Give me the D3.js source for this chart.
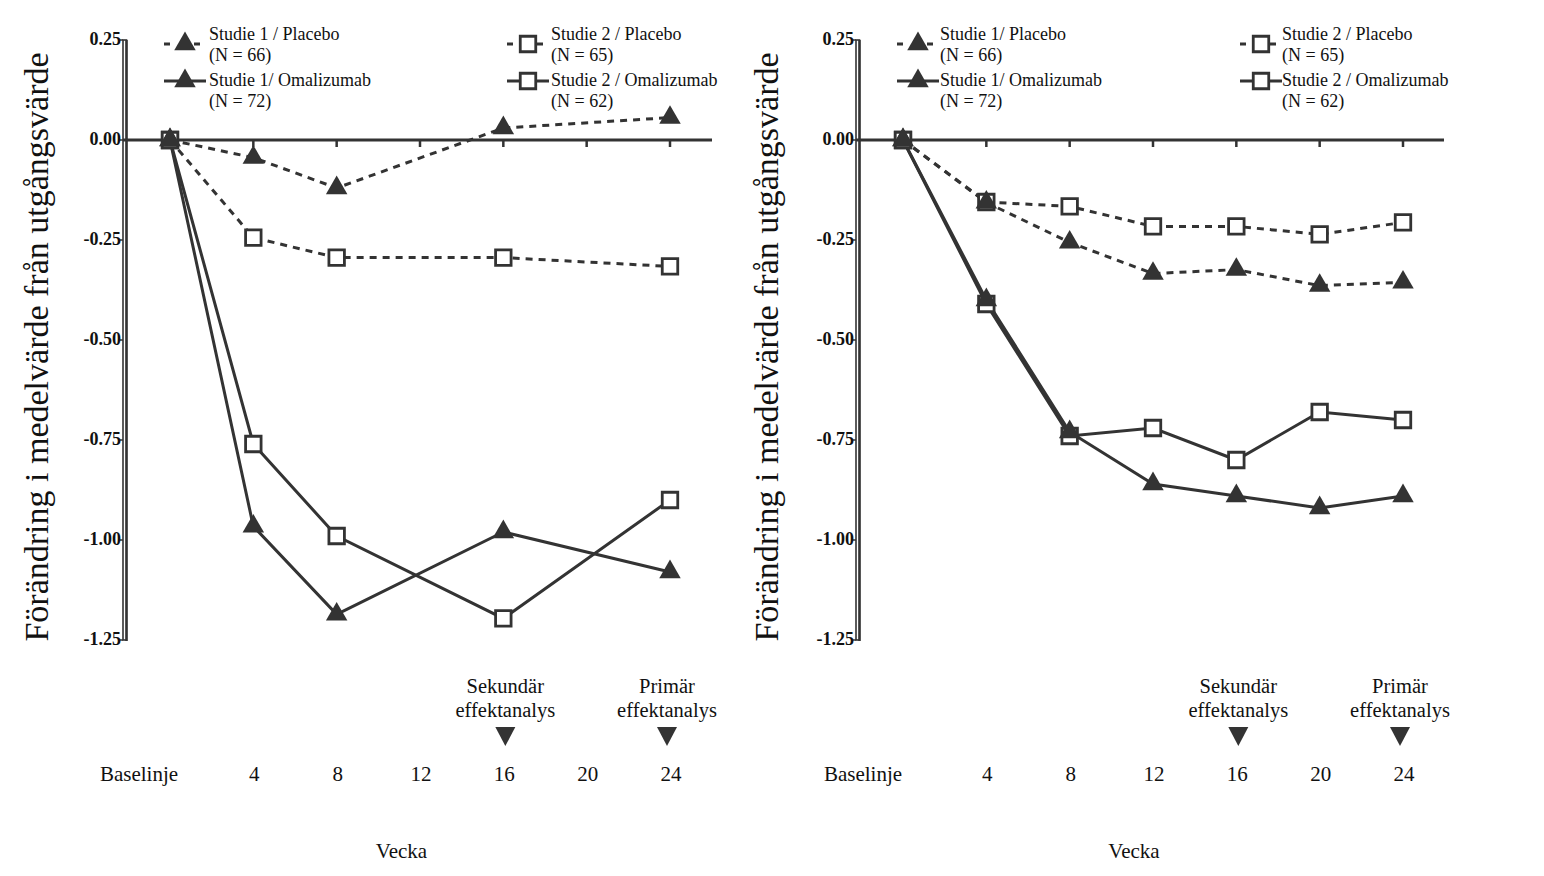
<!DOCTYPE html>
<html>
<head>
<meta charset="utf-8">
<script src="https://cdn.jsdelivr.net/npm/d3@7/dist/d3.min.js"></script>
<style>
html,body{margin:0;padding:0;background:#fff;}
svg{display:block;}
text{font-family:"Liberation Serif","Times New Roman",serif;fill:#111;}
</style>
</head>
<body>
<svg id="chart" width="1544" height="876"></svg>
<script>
// ---------- data ----------
const yTicks = [0.25, 0.00, -0.25, -0.50, -0.75, -1.00, -1.25];
const xTickWeeks = [4, 8, 12, 16, 20, 24];
const xTickLabels = ["Baselinje", "4", "8", "12", "16", "20", "24"];
const xLabelWeeks = [0, 4, 8, 12, 16, 20, 24];

// Left panel (weeks 0,4,8,16,24)
const leftWeeks = [0, 4, 8, 16, 24];
const leftS1Placebo = [0, -0.044, -0.12, 0.03, 0.056];
const leftS2Placebo = [0, -0.244, -0.294, -0.294, -0.316];
const leftS1Omalizumab = [0, -0.966, -1.186, -0.98, -1.08];
const leftS2Omalizumab = [0, -0.76, -0.99, -1.196, -0.90];

// Right panel (weeks 0..24 every 4)
const rightWeeks = [0, 4, 8, 12, 16, 20, 24];
const rightS1Placebo = [0, -0.156, -0.256, -0.334, -0.324, -0.364, -0.356];
const rightS2Placebo = [0, -0.155, -0.166, -0.216, -0.216, -0.236, -0.206];
const rightS1Omalizumab = [0, -0.40, -0.73, -0.86, -0.89, -0.92, -0.89];
const rightS2Omalizumab = [0, -0.41, -0.74, -0.72, -0.80, -0.68, -0.70];

const leftLegend = ["Studie 1 / Placebo", "Studie 2 / Placebo", "Studie 1/ Omalizumab", "Studie 2 / Omalizumab"];
const rightLegend = ["Studie 1/ Placebo", "Studie 2 / Placebo", "Studie 1/ Omalizumab", "Studie 2 / Omalizumab"];
const legendN = ["(N = 66)", "(N = 65)", "(N = 72)", "(N = 62)"];

const yTitle = "Förändring i medelvärde från utgångsvärde";
const xTitle = "Vecka";

// ---------- drawing ----------
const svg = d3.select("#chart");
svg.append("rect").attr("width",1544).attr("height",876).attr("fill","#fff");
const INK = "#333";
const fmt = v => d3.format(".2f")(v).replace("\u2212", "-");

function drawPanel(cfg) {
  const g = svg.append("g");
  const x = d3.scaleLinear().domain([0, 24]).range([cfg.x0, cfg.x0 + 500]);
  const y = d3.scaleLinear().domain([0.25, -1.25]).range([40, 640]);

  // y axis (hollow double line)
  g.append("rect").attr("x", cfg.axisX - 4).attr("y", y(0.25))
    .attr("width", 3.5).attr("height", y(-1.25) - y(0.25))
    .attr("fill", "#fff").attr("stroke", INK).attr("stroke-width", 1.6);
  g.append("line").attr("x1", cfg.axisX - 0.5).attr("x2", cfg.axisX - 0.5)
    .attr("y1", y(0.25)).attr("y2", y(-1.25) + 1).attr("stroke", INK).attr("stroke-width", 2.5);

  yTicks.forEach(t => {
    g.append("line").attr("x1", cfg.axisX - 7).attr("x2", cfg.axisX - 4)
      .attr("y1", y(t)).attr("y2", y(t)).attr("stroke", INK).attr("stroke-width", 1.5);
    g.append("text").attr("x", cfg.axisX - 6).attr("y", y(t) + 1)
      .attr("text-anchor", "end").attr("dominant-baseline", "middle")
      .attr("font-weight", "bold").attr("font-size", 18)
      .text(fmt(t));
  });

  // x axis line at 0
  g.append("line").attr("x1", cfg.axisX - 4).attr("x2", cfg.xEnd)
    .attr("y1", y(0)).attr("y2", y(0)).attr("stroke", INK).attr("stroke-width", 3);
  xTickWeeks.forEach(w => {
    g.append("line").attr("x1", x(w)).attr("x2", x(w))
      .attr("y1", y(0)).attr("y2", y(0) + 7).attr("stroke", INK).attr("stroke-width", 2.5);
  });

  // x tick labels (offset row below)
  xLabelWeeks.forEach((w, i) => {
    const px = w === 0 ? x(0) + cfg.baseDx : x(w) + 1;
    g.append("text").attr("x", px).attr("y", 776)
      .attr("text-anchor", "middle").attr("dominant-baseline", "middle")
      .attr("font-size", 21).text(xTickLabels[i]);
  });

  // annotations
  const ann = [{w: 16, dx: 2, l1: "Sekundär", l2: "effektanalys"},
               {w: 24, dx: -3, l1: "Primär", l2: "effektanalys"}];
  ann.forEach(a => {
    const cx = x(a.w) + a.dx;
    g.append("text").attr("x", cx).attr("y", 688).attr("text-anchor", "middle")
      .attr("dominant-baseline", "middle").attr("font-size", 20.5).text(a.l1);
    g.append("text").attr("x", cx).attr("y", 712).attr("text-anchor", "middle")
      .attr("dominant-baseline", "middle").attr("font-size", 20.5).text(a.l2);
    g.append("path").attr("d", `M${cx-10},727 L${cx+10},727 L${cx},746 Z`).attr("fill", INK);
  });

  // titles
  g.append("text").attr("x", (cfg.axisX + cfg.xEnd) / 2 - 18).attr("y", 853)
    .attr("text-anchor", "middle").attr("dominant-baseline", "middle")
    .attr("font-size", 21).text(xTitle);
  g.append("text").attr("transform", `translate(${cfg.titleX},347) rotate(-90)`)
    .attr("text-anchor", "middle").attr("dominant-baseline", "middle")
    .attr("font-size", 34).text(yTitle);

  // series
  const series = [
    {vals: cfg.s2p, dash: true, sym: "square"},
    {vals: cfg.s2o, dash: false, sym: "square"},
    {vals: cfg.s1p, dash: true, sym: "triangle"},
    {vals: cfg.s1o, dash: false, sym: "triangle"}
  ];
  const line = d3.line().x(d => x(d[0])).y(d => y(d[1]));
  series.forEach(s => {
    const pts = cfg.weeks.map((w, i) => [w, s.vals[i]]);
    g.append("path").attr("d", line(pts)).attr("fill", "none")
      .attr("stroke", INK).attr("stroke-width", 3)
      .attr("stroke-dasharray", s.dash ? "7,6" : null);
  });
  const tri = d3.symbol(d3.symbolTriangle, 200);
  const sq = d3.symbol(d3.symbolSquare, 240);
  series.forEach(s => {
    cfg.weeks.forEach((w, i) => {
      const p = g.append("path").attr("transform", `translate(${x(w)},${y(s.vals[i])})`);
      if (s.sym === "triangle") p.attr("d", tri()).attr("fill", INK);
      else p.attr("d", sq()).attr("fill", "#fff").attr("stroke", INK).attr("stroke-width", 2.8);
    });
  });

  // legend
  const items = [
    {col: 0, row: 0, dash: true, sym: "triangle", idx: 0},
    {col: 1, row: 0, dash: true, sym: "square", idx: 1},
    {col: 0, row: 1, dash: false, sym: "triangle", idx: 2},
    {col: 1, row: 1, dash: false, sym: "square", idx: 3}
  ];
  items.forEach(it => {
    const sx = cfg.axisX + (it.col === 0 ? 58 : 401);
    const tx = cfg.axisX + (it.col === 0 ? 82 : 424) + cfg.legDx;
    const symY = it.row === 0 ? 44 : 81;
    const t1 = it.row === 0 ? 36 : 82;
    g.append("line").attr("x1", sx - 21).attr("x2", sx + 21).attr("y1", symY).attr("y2", symY)
      .attr("stroke", INK).attr("stroke-width", 3)
      .attr("stroke-dasharray", it.dash ? "6,9" : null);
    const p = g.append("path").attr("transform", `translate(${sx},${symY})`);
    if (it.sym === "triangle") p.attr("d", tri()).attr("fill", INK);
    else p.attr("d", sq()).attr("fill", "#fff").attr("stroke", INK).attr("stroke-width", 2.8);
    g.append("text").attr("x", tx).attr("y", t1).attr("dominant-baseline", "middle")
      .attr("font-size", 18).text(cfg.legend[it.idx]);
    g.append("text").attr("x", tx).attr("y", t1 + 21).attr("dominant-baseline", "middle")
      .attr("font-size", 18).text(legendN[it.idx]);
  });
}

drawPanel({axisX: 127, x0: 170, xEnd: 712, titleX: 40, baseDx: -31, legDx: 0, weeks: leftWeeks,
  s1p: leftS1Placebo, s2p: leftS2Placebo, s1o: leftS1Omalizumab, s2o: leftS2Omalizumab, legend: leftLegend});
drawPanel({axisX: 860, x0: 903, xEnd: 1444, titleX: 770, baseDx: -40, legDx: -2, weeks: rightWeeks,
  s1p: rightS1Placebo, s2p: rightS2Placebo, s1o: rightS1Omalizumab, s2o: rightS2Omalizumab, legend: rightLegend});
</script>
</body>
</html>
